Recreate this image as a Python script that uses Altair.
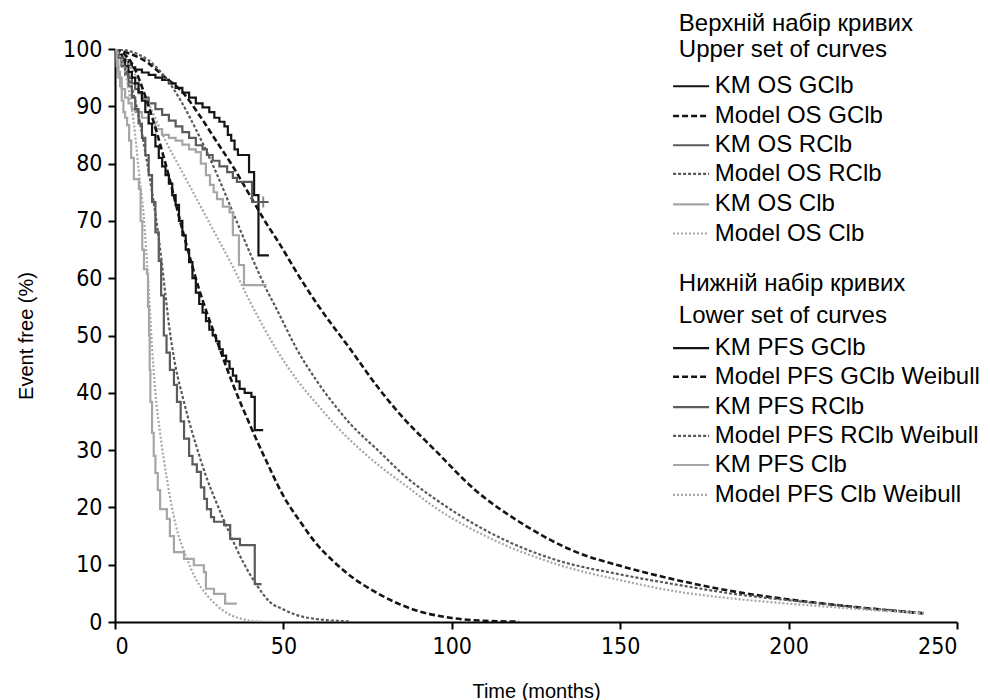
import altair as alt
import pandas as pd

# ---------------- data ----------------
# Upper set (overall survival)
km_os_gclb_t = [0, 1, 2, 3, 4, 5, 6, 8, 10, 12, 14, 16, 18, 20, 22, 24, 26, 28, 29.5, 31, 32.5, 33.5, 34.5, 35.5, 36.5, 39.8, 41.3, 42.6, 45.7]
km_os_gclb_v = [100, 99, 98.5, 98, 97.3, 96.8, 96.4, 95.9, 95.5, 95, 94.6, 94, 93.2, 92.4, 91.5, 90.5, 89.8, 89, 88, 87.3, 86.5, 85, 84, 82.5, 81.5, 78.5, 74.5, 64, 64]

km_os_rclb_t = [0, 1, 2, 3, 4, 5, 6, 7, 8, 10, 12, 14, 16, 18, 20, 22, 24, 26, 27.3, 29, 31, 33.3, 35, 36.2, 40.7, 45.5]
km_os_rclb_v = [100, 98.5, 97, 96, 95, 94, 93, 92.3, 91.5, 90.5, 89.5, 88.5, 87.5, 86.5, 85.5, 84.5, 83.2, 82.5, 81.5, 80.5, 79.5, 78.5, 77.5, 76.8, 73.3, 73.3]

km_os_clb_t = [0, 0.5, 1, 2, 3, 4, 5, 6, 8, 10, 12, 14, 16, 18, 20, 22, 24, 25.5, 27, 28.2, 29.3, 30.3, 32, 34, 35, 36.8, 38.3, 45]
km_os_clb_v = [100, 97, 95, 93, 91.5, 90.5, 89.5, 89, 88, 87, 86, 85, 84.5, 84, 83.3, 82.5, 82, 80, 78, 76.3, 75, 73.8, 72.5, 71.5, 67.5, 62.3, 58.8, 58.8]

model_os_gclb_t = [0, 10, 15, 20, 25, 30, 35, 40, 45, 48, 55, 60, 70, 78, 85, 95, 107, 120, 137, 150, 167, 185, 202, 220, 240]
model_os_gclb_v = [100, 97.5, 95, 92.5, 88.5, 84, 79.5, 74.5, 69.5, 66.8, 60, 55.5, 47.5, 41, 36, 30, 23, 17.5, 12.2, 9.8, 7.3, 5.2, 3.8, 2.6, 1.5]

model_os_rclb_t = [0, 5, 10, 15, 20, 24, 30, 35, 40, 45, 48, 54, 60, 65, 70, 78, 87, 95, 110, 130, 150, 167, 185, 200, 220, 240]
model_os_rclb_v = [100, 99.5, 98, 95, 90.5, 86, 78.5, 71.5, 64.5, 58, 54.6, 47.6, 42, 38, 34.5, 30, 25, 21.5, 16, 11, 8.3, 6.5, 4.8, 3.8, 2.6, 1.6]

model_os_clb_t = [0, 3, 6, 10, 15, 20, 25, 30, 35, 40, 48, 55, 60, 66, 73, 78, 87, 95, 110, 130, 150, 167, 185, 200, 220, 240]
model_os_clb_v = [100, 98.5, 95.5, 90.5, 84, 78.5, 73, 67.5, 62, 56, 47.5, 41.5, 38, 34, 30, 27.5, 23.5, 20, 15, 10.3, 7.3, 5.3, 4, 3.2, 2.3, 1.5]

# Lower set (progression-free survival)
km_pfs_gclb_t = [0, 1, 2, 3, 4, 5, 6, 7, 8, 9, 10, 11, 12, 13, 14, 15, 16, 17, 18, 19, 20, 21, 22, 23, 24, 25, 26, 27, 28, 29, 30, 31, 32, 33, 34, 35, 36, 37, 38.5, 40.5, 41.5, 44]
km_pfs_gclb_v = [100, 99, 98, 97, 96, 95, 94, 92.5, 91, 89, 87, 85, 83, 81, 79.5, 78, 76.5, 74.5, 72.8, 70, 67.5, 65, 62.8, 60, 57.5, 55.5, 54, 52.5, 51, 50, 49, 47.6, 46.5, 45.5, 44.2, 43, 42, 40.7, 40, 39.3, 33.5, 33.5]

km_pfs_rclb_t = [0, 1, 2, 3, 4, 5, 6, 7, 8, 9, 10, 11, 12, 13, 13.7, 14.5, 15.3, 16.3, 17.5, 18.4, 19.5, 20.5, 22, 23, 24.3, 25.5, 26.5, 27.3, 28.5, 29.4, 32.4, 34.2, 37.1, 41.5, 43.5]
km_pfs_rclb_v = [100, 98.5, 97, 95.5, 93.5, 91.5, 89.5, 87, 84.5, 81.5, 78, 73.3, 68, 63, 57, 50, 47, 44, 41.4, 38.4, 35, 32, 29, 27.5, 26.2, 23.5, 21.5, 19.7, 18.3, 17.5, 16.9, 14.5, 13.4, 6.6, 6.6]

km_pfs_clb_t = [0, 0.5, 1, 1.5, 2, 2.5, 3, 3.6, 4.2, 4.8, 5.6, 7.1, 7.6, 8.1, 8.6, 9.5, 9.8, 10.1, 10.3, 10.5, 11, 11.5, 12, 12.7, 13.4, 15.4, 16.3, 17.5, 20.5, 23.4, 26.4, 27, 29.4, 32.7, 36.2]
km_pfs_clb_v = [100, 98, 96, 93.5, 91, 89, 88, 86.7, 84, 81, 77.3, 75.6, 70, 65, 61.6, 60.8, 55, 50, 44, 38.4, 33, 29, 26, 23, 19.7, 18, 15, 12.2, 11, 9.9, 8.7, 5.8, 4.9, 3.2, 3.2]

model_pfs_gclb_t = [0, 5, 10, 15, 20, 25, 30, 35, 40, 45, 50, 55, 60, 65, 70, 78, 88, 100, 110, 120]
model_pfs_gclb_v = [100, 97.5, 90, 80, 68.5, 58, 49.5, 41.5, 34.5, 28, 22, 17.5, 13.5, 10.5, 8, 5, 2.3, 0.7, 0.2, 0.05]

model_pfs_rclb_t = [0, 2, 4, 6, 9, 11, 13, 15, 16, 18, 20, 22, 24, 27, 30, 34, 38, 42, 46, 50, 54, 60, 70]
model_pfs_rclb_v = [100, 98, 95, 91, 82, 75, 67, 57, 52, 44.5, 39.5, 35, 31, 25.5, 21, 15.5, 10.5, 6.5, 3.5, 2.2, 1.2, 0.5, 0.1]

model_pfs_clb_t = [0, 2, 4, 6, 7, 8.5, 10, 11, 12, 13.5, 15.4, 18, 21.4, 24, 27.3, 30, 34, 38, 42, 50]
model_pfs_clb_v = [100, 98, 93, 85, 79, 71, 58, 48, 40, 32.5, 25, 17, 11, 7.5, 4.7, 3, 1.3, 0.5, 0.1, 0]

# censor mark at the end of KM OS RClb
censor_t = [44]
censor_v = [73.3]

x_ticks = [0, 50, 100, 150, 200, 250]
y_ticks = [0, 10, 20, 30, 40, 50, 60, 70, 80, 90, 100]

upper_title = ["Верхній набір кривих", "Upper set of curves"]
lower_title = ["Нижній набір кривих", "Lower set of curves"]
upper_labels = ["KM OS GClb", "Model OS GClb", "KM OS RClb", "Model OS RClb", "KM OS Clb", "Model OS Clb"]
lower_labels = ["KM PFS GClb", "Model PFS GClb Weibull", "KM PFS RClb", "Model PFS RClb Weibull", "KM PFS Clb", "Model PFS Clb Weibull"]

# ---------------- styles ----------------
BLACK = "#141414"
DARK = "#5a5a5a"
LIGHT = "#a6a6a6"
styles = [
    dict(color=BLACK, dash=[1, 0], width=2.2, interp="step-after"),   # KM GClb
    dict(color=BLACK, dash=[6, 3], width=2.6, interp="monotone"),     # Model GClb
    dict(color=DARK, dash=[1, 0], width=2.2, interp="step-after"),    # KM RClb
    dict(color=DARK, dash=[3, 2], width=2.2, interp="monotone"),      # Model RClb
    dict(color=LIGHT, dash=[1, 0], width=2.2, interp="step-after"),   # KM Clb
    dict(color=LIGHT, dash=[2, 2], width=2.2, interp="monotone"),     # Model Clb
]

upper_series = [(km_os_gclb_t, km_os_gclb_v), (model_os_gclb_t, model_os_gclb_v),
                (km_os_rclb_t, km_os_rclb_v), (model_os_rclb_t, model_os_rclb_v),
                (km_os_clb_t, km_os_clb_v), (model_os_clb_t, model_os_clb_v)]
lower_series = [(km_pfs_gclb_t, km_pfs_gclb_v), (model_pfs_gclb_t, model_pfs_gclb_v),
                (km_pfs_rclb_t, km_pfs_rclb_v), (model_pfs_rclb_t, model_pfs_rclb_v),
                (km_pfs_clb_t, km_pfs_clb_v), (model_pfs_clb_t, model_pfs_clb_v)]

FONT = "Liberation Sans"
NARROW = "Liberation Sans Narrow, DejaVu Sans Condensed, Liberation Sans"

x_enc = alt.X("t:Q", scale=alt.Scale(domain=[0, 250], nice=False),
              axis=alt.Axis(values=x_ticks, title="Time (months)", grid=False, format="d",
                            titlePadding=23))
y_enc = alt.Y("v:Q", scale=alt.Scale(domain=[0, 100], nice=False),
              axis=alt.Axis(values=y_ticks, title="Event free (%)", grid=False, format="d",
                            titlePadding=26))

layers = []
for series in (upper_series, lower_series):
    for (ts, vs), st in zip(series, styles):
        df = pd.DataFrame({"t": ts, "v": vs})
        layers.append(
            alt.Chart(df).mark_line(
                color=st["color"], strokeDash=st["dash"], strokeWidth=st["width"],
                interpolate=st["interp"], clip=True
            ).encode(x=x_enc, y=y_enc)
        )

layers.append(
    alt.Chart(pd.DataFrame({"t": censor_t, "v": censor_v})).mark_point(
        shape="M-1,0H1M0,-1V1", size=120, filled=False, stroke=DARK, strokeWidth=2
    ).encode(x=x_enc, y=y_enc)
)

# ---------------- manual legend (layout in data units) ----------------
LEG_SYM_X0, LEG_SYM_X1, LEG_TXT_X, LEG_TTL_X = 165.7, 176.4, 178.1, 167.4
upper_title_y = [104.4, 99.8]
lower_title_y = [59.0, 53.4]
upper_item_y = [93.5, 88.3, 83.2, 78.2, 72.9, 67.8]
lower_item_y = [47.8, 42.8, 37.5, 32.5, 27.4, 22.2]

titles_df = pd.DataFrame({"t": [LEG_TTL_X] * 4,
                          "v": upper_title_y + lower_title_y,
                          "label": upper_title + lower_title})
labels_df = pd.DataFrame({"t": [LEG_TXT_X] * 12,
                          "v": upper_item_y + lower_item_y,
                          "label": upper_labels + lower_labels})
for df in (titles_df, labels_df):
    layers.append(
        alt.Chart(df).mark_text(align="left", baseline="middle", font=FONT,
                                fontSize=24, color="black").encode(
            x=alt.X("t:Q"), y=alt.Y("v:Q"), text="label:N")
    )

for ys in (upper_item_y, lower_item_y):
    for y, st in zip(ys, styles):
        sdf = pd.DataFrame({"t": [LEG_SYM_X0], "t2": [LEG_SYM_X1], "v": [y]})
        layers.append(
            alt.Chart(sdf).mark_rule(color=st["color"], strokeDash=st["dash"],
                                     strokeWidth=st["width"]).encode(
                x=alt.X("t:Q"), x2="t2:Q", y=alt.Y("v:Q"))
        )

chart = alt.layer(*layers).properties(
    width=842, height=573,
    padding={"left": 8, "top": 3, "right": 0, "bottom": 0},
    background="white",
).configure_view(stroke=None).configure_axis(
    domainColor="black", domainWidth=2, tickColor="black", tickWidth=2, tickSize=7,
    labelFont=NARROW, labelFontSize=23, labelColor="black", labelPadding=6,
    titleFont=FONT, titleFontSize=20, titleFontWeight="normal", titleColor="black",
)

chart.save("out.html", embed_options={"renderer": "svg", "actions": False})
